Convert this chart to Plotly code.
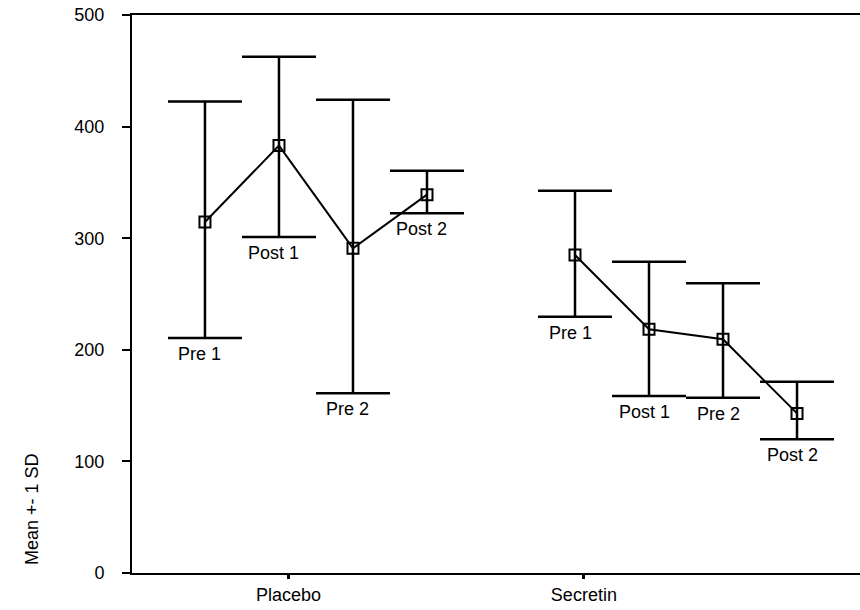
import plotly.graph_objects as go

# ---- data ----
groups = ["Placebo", "Secretin"]
timepoints = ["Pre 1", "Post 1", "Pre 2", "Post 2"]

placebo_mean = [314.5, 383.0, 291.0, 339.0]
placebo_upper = [422.5, 462.5, 424.0, 360.5]
placebo_lower = [210.6, 301.0, 161.0, 322.3]

secretin_mean = [285.0, 218.4, 209.4, 143.0]
secretin_upper = [342.6, 279.0, 259.6, 171.4]
secretin_lower = [229.7, 158.6, 157.0, 119.8]

y_ticks = [0, 100, 200, 300, 400, 500]
y_title = "Mean +- 1 SD"

FONT = "Liberation Sans, Arial, sans-serif"
FS = 18

series = [
    (placebo_mean, placebo_upper, placebo_lower),
    (secretin_mean, secretin_upper, secretin_lower),
]

fig = go.Figure()
annotations = []
for g, (mean, upper, lower) in enumerate(series):
    xs = [g * 5 + t for t in range(len(timepoints))]
    fig.add_trace(go.Scatter(
        x=xs, y=mean, mode="lines+markers",
        line=dict(color="black", width=2),
        marker=dict(symbol="square-open", size=11, color="black",
                    line=dict(color="black", width=2)),
        error_y=dict(type="data", symmetric=False,
                     array=[u - m for u, m in zip(upper, mean)],
                     arrayminus=[m - l for m, l in zip(mean, lower)],
                     color="black", thickness=2.5, width=37),
        showlegend=False, hoverinfo="skip",
    ))
    for x, lo, lab in zip(xs, lower, timepoints):
        annotations.append(dict(
            x=x, y=lo, xref="x", yref="y", text=lab, showarrow=False,
            xanchor="center", yanchor="top", xshift=-5, yshift=-4,
            font=dict(family=FONT, size=FS, color="black"),
        ))

annotations.append(dict(
    x=-0.137, y=0.115, xref="paper", yref="paper", text=y_title,
    showarrow=False, textangle=-90, xanchor="center", yanchor="middle",
    font=dict(family=FONT, size=FS, color="black"),
))

fig.update_layout(
    width=860, height=610,
    margin=dict(l=132, r=0, t=15, b=37, autoexpand=False),
    paper_bgcolor="white", plot_bgcolor="white",
    font=dict(family=FONT, size=FS, color="black"),
    annotations=annotations,
    xaxis=dict(
        range=[-0.986, 8.851], tickmode="array", tickvals=[1.13, 5.12],
        ticktext=groups, showgrid=False, zeroline=False,
        showline=True, linecolor="black", linewidth=2, mirror=True,
        ticks="outside", ticklen=4, tickwidth=3, tickcolor="black",
        tickfont=dict(family=FONT, size=FS, color="black"),
    ),
    yaxis=dict(
        range=[0, 500], tickmode="array", tickvals=y_ticks,
        showgrid=False, zeroline=False,
        showline=True, linecolor="black", linewidth=2,
        ticks="outside", ticklen=8, tickwidth=2, tickcolor="black",
        ticklabelstandoff=14,
        tickfont=dict(family=FONT, size=FS, color="black"),
    ),
)

fig.write_html(
    "out.html",
    config={"displayModeBar": False},
    post_script="document.body.style.margin='0px';"
                "document.body.style.overflow='hidden';",
)
